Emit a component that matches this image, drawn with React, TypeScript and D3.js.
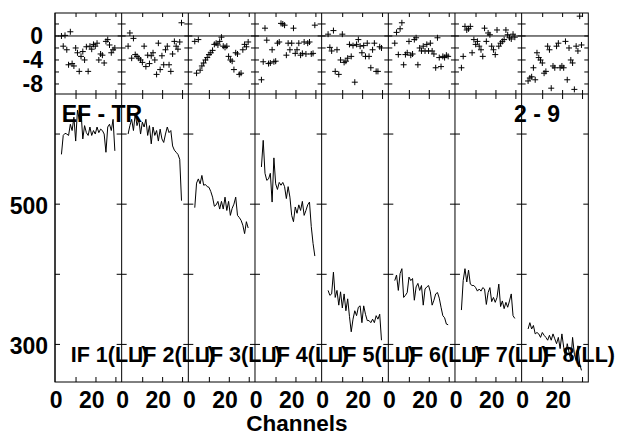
import * as d3 from 'd3';

// IF labels, one per panel
const ifLabels = ['IF 1(LL)', 'IF 2(LL)', 'IF 3(LL)', 'IF 4(LL)', 'IF 5(LL)', 'IF 6(LL)', 'IF 7(LL)', 'IF 8(LL)'];
const baselineLabel = 'EF - TR';
const scanLabel = '2 - 9';
const firstChannel = 3;

// upper strip: residuals (crosses)
const res1 = [0, -1.7, 0.1, -2.3, -4.8, 0.7, -4.6, -5.0, -2.0, -2.8, -5.9, -3.4, -2.6, -4.0, -1.8, -5.9, -1.7, -2.2, -1.4, -1.7, -1.2, -4.0, -3.0, -3.2, -4.5, -0.9, -0.6, -1.5, -2.8, -2.3, -2.0];
const res2 = [-1.7, 0.5, -3.7, -0.4, -3.1, -3.4, -3.7, -4.0, -4.4, -1.7, -5.1, -3.2, -4.6, -3.3, -2.8, -4.0, -6.4, -1.2, -5.6, -3.3, -4.8, -2.3, -1.7, -4.8, -5.9, -3.0, -0.9, -1.7, -2.2, -1.0, 2.2];
const res3 = [-0.9, -6.2, -0.6, -5.7, -5.0, -4.5, -4.0, -3.6, -3.1, -2.8, -2.4, -1.4, -1.2, -1.5, -0.9, -0.2, -1.7, -1.9, -1.7, -3.4, -4.0, -4.2, -5.6, -2.8, -3.0, -6.4, -6.2, -2.3, -1.4, -1.8, -1.0];
const res4 = [-7.3, -4.3, 1.3, -0.7, -4.6, -4.5, -2.3, -4.3, -4.2, -1.2, -1.0, 2.1, 2.0, 1.8, -3.2, -1.2, -2.3, -1.2, 1.3, -2.9, -2.3, -1.2, -3.2, -2.9, -1.0, -3.0, -1.2, -1.0, -3.0, -2.9, 1.8];
const res5 = [0.3, -1.9, -2.5, 0.9, -5.9, -2.3, -6.4, -4.0, 0.3, -4.4, -4.2, -3.7, -1.4, -3.4, -1.6, -7.7, -1.4, -0.6, -1.7, -2.8, -1.6, -3.4, -1.2, -3.4, -5.3, -2.3, -1.2, -5.9, -5.9, -1.8, -2.0];
const res6 = [-1.2, 0.6, -3.1, 1.2, 2.2, -4.8, -3.1, -2.8, -0.9, -3.2, -3.0, -0.6, -0.3, -4.8, -2.0, -2.5, -1.7, -2.5, -1.4, -2.5, -1.2, -2.5, -3.0, -5.3, -0.3, -3.6, -5.1, -3.4, -3.6, -3.2, -3.4];
const res7 = [-5.3, -3.4, 1.6, 1.0, 1.2, 1.6, -2.8, -0.6, -1.4, -0.9, -1.7, -2.3, -3.4, 1.3, -0.9, 0.5, 0.2, -1.7, -2.3, -3.1, 1.0, -1.7, -1.2, -0.9, -0.6, 1.0, 0.2, -0.3, -0.5, 0.3, -0.2];
const res8 = [-7.5, -7.0, -6.8, -5.3, -7.3, -2.8, -3.6, -4.0, -4.5, -6.2, -5.9, -1.7, -2.3, -8.7, -5.0, -5.3, -1.7, -1.2, -5.3, -5.0, -5.3, -0.9, -7.3, -2.0, -4.0, -4.5, -8.9, -1.7, -2.5, 3.3, -1.5];

// lower strip: amplitudes (lines)
const amp1 = [571, 598, 601, 600, 598, 614, 605, 624, 590, 634, 621, 631, 593, 612, 602, 598, 610, 598, 605, 600, 610, 602, 607, 605, 600, 574, 610, 614, 605, 621, 576];
const amp2 = [600, 612, 621, 605, 629, 612, 621, 600, 617, 610, 621, 598, 612, 586, 610, 598, 605, 590, 607, 593, 588, 600, 610, 602, 605, 583, 577, 574, 571, 564, 505];
const amp3 = [495, 530, 536, 529, 541, 527, 528, 525, 524, 518, 510, 497, 499, 504, 493, 504, 493, 510, 491, 504, 484, 494, 500, 510, 484, 481, 477, 470, 458, 475, 466];
const amp4 = [553, 591, 544, 534, 536, 544, 503, 566, 529, 521, 531, 527, 531, 525, 508, 525, 510, 484, 475, 496, 487, 499, 491, 504, 484, 491, 499, 503, 468, 444, 426];
const amp5 = [377, 370, 372, 403, 367, 377, 356, 375, 352, 372, 348, 365, 340, 318, 336, 348, 341, 353, 355, 331, 355, 343, 334, 334, 331, 336, 331, 341, 336, 343, 306];
const amp6 = [391, 399, 377, 401, 408, 367, 370, 374, 396, 391, 394, 363, 382, 387, 377, 384, 356, 379, 382, 384, 375, 356, 363, 372, 374, 366, 353, 341, 338, 329, 328];
const amp7 = [349, 391, 408, 389, 406, 386, 384, 384, 381, 376, 379, 376, 381, 379, 357, 374, 381, 361, 367, 360, 367, 386, 354, 362, 351, 360, 353, 362, 372, 341, 337];
const amp8 = [322, 331, 322, 327, 315, 317, 315, 310, 317, 313, 310, 306, 313, 306, 315, 308, 301, 310, 294, 315, 296, 282, 301, 289, 277, 310, 286, 277, 298, 272, 263];

const residuals = [res1, res2, res3, res4, res5, res6, res7, res8];
const amplitudes = [amp1, amp2, amp3, amp4, amp5, amp6, amp7, amp8];

// axis ticks
const resTicks = [2, 0, -2, -4, -6, -8];
const resLabels = [0, -4, -8];
const ampTicks = [300, 400, 500, 600];
const ampLabels = [300, 500];
const chanTicks = [11.2, 22.4, 33.6];
const chanLabels = [0, 20];

const W = 626;
const H = 435;
const left = 55;
const right = 588.3;
const top = 13;
const mid = 94;
const bottom = 382;
const panelW = (right - left) / ifLabels.length;
const font = '"Liberation Sans", Arial, sans-serif';
const fs = 23;

export default function App() {
  const yRes = d3.scaleLinear().domain([-9.67, 3.83]).range([mid, top]);
  const yAmp = d3.scaleLinear().domain([246.4, 657.1]).range([bottom, mid]);
  const chMin = -0.62;
  const chMax = chMin + panelW / 1.78;

  const panels = ifLabels.map((label, p) => {
    const x0 = left + p * panelW;
    const x = d3.scaleLinear().domain([chMin, chMax]).range([x0, x0 + panelW]);
    const line = d3
      .line<number>()
      .x((_, i) => x(firstChannel + i))
      .y((d) => yAmp(d));
    return { label, p, x0, x, line };
  });

  const t = 5;
  const tSmall = 4;

  return (
    <svg
      width={W}
      height={H}
      style={{ position: 'absolute', left: 0, top: 0, background: '#fff' }}
      fontFamily={font}
      fontWeight="bold"
    >
      {/* zero line of the residual strip */}
      <line x1={left} x2={right} y1={yRes(0)} y2={yRes(0)} stroke="#000" strokeWidth={1} />

      {panels.map(({ label, p, x0, x, line }) => (
        <g key={label}>
          {/* crosses */}
          {residuals[p].map((v, i) => {
            const cx = x(firstChannel + i);
            const cy = yRes(v);
            return (
              <path
                key={i}
                d={`M${cx - 3},${cy}H${cx + 3}M${cx},${cy - 3}V${cy + 3}`}
                stroke="#000"
                strokeWidth={1}
                fill="none"
              />
            );
          })}
          {/* amplitude */}
          <path d={line(amplitudes[p]) ?? ''} fill="none" stroke="#000" strokeWidth={1} />

          {/* channel ticks */}
          {chanTicks.map((c) => (
            <g key={c} stroke="#000" strokeWidth={1}>
              <line x1={x(c)} x2={x(c)} y1={top} y2={top + tSmall} />
              <line x1={x(c)} x2={x(c)} y1={mid} y2={mid - tSmall} />
              <line x1={x(c)} x2={x(c)} y1={mid} y2={mid + t} />
              <line x1={x(c)} x2={x(c)} y1={bottom} y2={bottom - t} />
            </g>
          ))}
          {chanLabels.map((c) => (
            <text key={c} x={x(c)} y={408} textAnchor="middle" fontSize={fs}>
              {c}
            </text>
          ))}

          {/* divider / panel left edge with ticks on both sides */}
          <line x1={x0} x2={x0} y1={top} y2={bottom} stroke="#000" strokeWidth={1} />
          {resTicks.map((v) => (
            <line
              key={v}
              x1={p === 0 ? x0 : x0 - tSmall}
              x2={x0 + tSmall}
              y1={yRes(v)}
              y2={yRes(v)}
              stroke="#000"
            />
          ))}
          {ampTicks.map((v) => (
            <line
              key={v}
              x1={p === 0 ? x0 : x0 - t}
              x2={x0 + t}
              y1={yAmp(v)}
              y2={yAmp(v)}
              stroke="#000"
            />
          ))}

          <text x={x0 + 15.7} y={361.5} fontSize={21.5}>
            {label}
          </text>
        </g>
      ))}

      {/* right edge ticks */}
      {resTicks.map((v) => (
        <line key={v} x1={right - tSmall} x2={right} y1={yRes(v)} y2={yRes(v)} stroke="#000" />
      ))}
      {ampTicks.map((v) => (
        <line key={v} x1={right - t} x2={right} y1={yAmp(v)} y2={yAmp(v)} stroke="#000" />
      ))}

      {/* frame */}
      <rect x={left} y={top} width={right - left} height={bottom - top} fill="none" stroke="#000" strokeWidth={1} />
      <line x1={left} x2={right} y1={mid} y2={mid} stroke="#000" strokeWidth={1} />

      {/* y labels */}
      {resLabels.map((v) => (
        <text key={v} x={43} y={yRes(v) + 8.5} textAnchor="end" fontSize={fs}>
          {v}
        </text>
      ))}
      {ampLabels.map((v) => (
        <text key={v} x={48} y={yAmp(v) + 10} textAnchor="end" fontSize={fs}>
          {v}
        </text>
      ))}

      <text x={61.7} y={121.5} fontSize={fs}>
        {baselineLabel}
      </text>
      <text x={514} y={121.5} fontSize={fs}>
        {scanLabel}
      </text>
      <text x={296.8} y={431} textAnchor="middle" fontSize={22.5}>
        Channels
      </text>
    </svg>
  );
}
